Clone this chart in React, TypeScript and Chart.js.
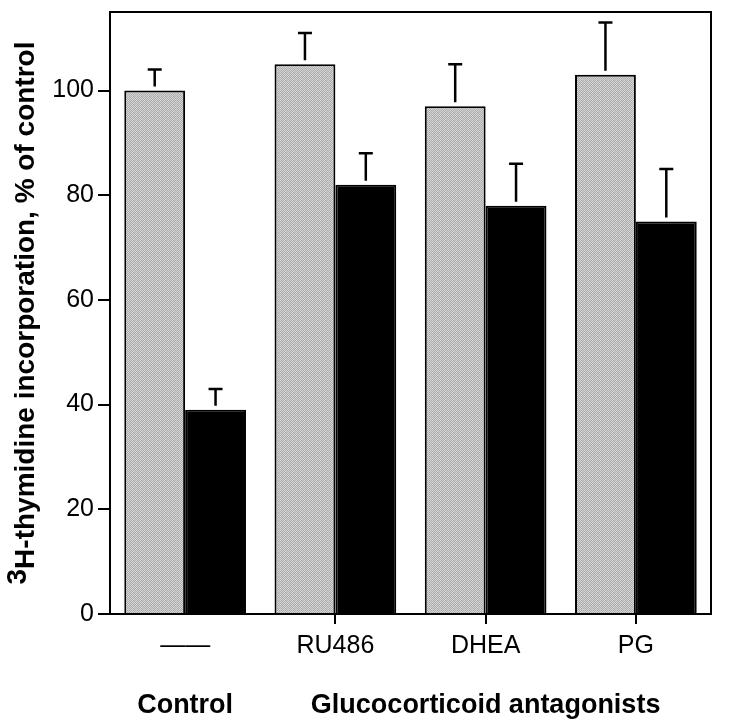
import React, { useEffect, useRef } from 'react';
import { Chart, registerables } from 'chart.js';

Chart.register(...registerables);

const categories = ['——', 'RU486', 'DHEA', 'PG'];
const greyValues = [100, 105, 97, 103];
const greyErrors = [4, 6, 8, 10];
const blackValues = [39, 82, 78, 75];
const blackErrors = [4, 6, 8, 10];
const yTickValues = [0, 20, 40, 60, 80, 100];
const groupLabels = ['Control', 'Glucocorticoid antagonists'];
const groupLabelIndex = [0, 2];
const yTitleSup = '3';
const yTitleRest = 'H-thymidine incorporation, % of control';

const FONT = '"Liberation Sans", Arial, Helvetica, sans-serif';

function makePattern(): CanvasPattern | string {
  const c = document.createElement('canvas');
  c.width = 4;
  c.height = 4;
  const g = c.getContext('2d');
  if (!g) return '#bcbcbc';
  const tile = [
    ['#d6d6d6', '#a6a6a6', '#cfcfcf', '#b0b0b0'],
    ['#b4b4b4', '#d2d2d2', '#a8a8a8', '#d8d8d8'],
    ['#d4d4d4', '#ababab', '#d6d6d6', '#a9a9a9'],
    ['#aeaeae', '#d8d8d8', '#b2b2b2', '#d0d0d0'],
  ];
  for (let y = 0; y < 4; y++) {
    for (let x = 0; x < 4; x++) {
      g.fillStyle = tile[y][x];
      g.fillRect(x, y, 1, 1);
    }
  }
  const p = g.createPattern(c, 'repeat');
  return p || '#bcbcbc';
}

const errorBarPlugin = {
  id: 'errorBars',
  afterDatasetsDraw(chart: any) {
    const ctx = chart.ctx;
    const yScale = chart.scales.y;
    const errs = [greyErrors, blackErrors];
    ctx.save();
    ctx.strokeStyle = '#000';
    ctx.lineWidth = 2.5;
    chart.data.datasets.forEach((ds: any, i: number) => {
      const meta = chart.getDatasetMeta(i);
      meta.data.forEach((el: any, j: number) => {
        const v = ds.data[j];
        const yCap = yScale.getPixelForValue(v + errs[i][j]);
        const x = el.x;
        ctx.beginPath();
        ctx.moveTo(x, el.y - 4);
        ctx.lineTo(x, yCap);
        ctx.moveTo(x - 7, yCap);
        ctx.lineTo(x + 7, yCap);
        ctx.stroke();
      });
    });
    const a = chart.chartArea;
    ctx.lineWidth = 2;
    ctx.strokeRect(a.left, a.top, a.right - a.left, a.bottom - a.top);
    ctx.restore();
  },
  afterDraw(chart: any) {
    const ctx = chart.ctx;
    const xScale = chart.scales.x;
    const a = chart.chartArea;
    ctx.save();
    ctx.fillStyle = '#000';
    ctx.font = `bold 27px ${FONT}`;
    ctx.textAlign = 'center';
    ctx.textBaseline = 'middle';
    groupLabels.forEach((t, k) => {
      ctx.fillText(t, xScale.getPixelForValue(groupLabelIndex[k]), 706);
    });
    const yc = (a.top + a.bottom) / 2;
    ctx.translate(0, yc);
    ctx.rotate(-Math.PI / 2);
    ctx.textAlign = 'left';
    ctx.textBaseline = 'alphabetic';
    ctx.font = `bold 28px ${FONT}`;
    const w1 = ctx.measureText(yTitleSup).width;
    const w2 = ctx.measureText(yTitleRest).width;
    const start = -(w1 + w2) / 2;
    const base = 34;
    ctx.fillText(yTitleSup, start, base - 8);
    ctx.fillText(yTitleRest, start + w1, base);
    ctx.restore();
  },
};

export default function App() {
  const ref = useRef<HTMLCanvasElement | null>(null);
  useEffect(() => {
    if (!ref.current) return;
    const pattern = makePattern();
    const chart = new Chart(ref.current, {
      type: 'bar',
      data: {
        labels: categories,
        datasets: [
          {
            label: 'grey',
            data: greyValues,
            backgroundColor: pattern as any,
            borderColor: '#000',
            borderWidth: 2,
            categoryPercentage: 0.81,
            barPercentage: 1,
          },
          {
            label: 'black',
            data: blackValues,
            backgroundColor: '#000',
            borderColor: '#000',
            borderWidth: 2,
            categoryPercentage: 0.81,
            barPercentage: 1,
          },
        ],
      },
      options: {
        animation: false,
        responsive: false,
        devicePixelRatio: 1,
        layout: { padding: { top: 12, right: 19, left: 0, bottom: 0 } },
        plugins: { legend: { display: false }, tooltip: { enabled: false } },
        scales: {
          x: {
            type: 'category',
            grid: {
              display: true,
              drawOnChartArea: false,
              drawTicks: true,
              tickLength: 10,
              offset: false,
              lineWidth: 2,
              color: (c: any) => (c.index === 0 ? 'rgba(0,0,0,0)' : '#000'),
            },
            border: { display: false },
            ticks: {
              color: '#000',
              font: { family: FONT, size: 25, lineHeight: 1 },
              padding: 10,
              maxRotation: 0,
              autoSkip: false,
            },
            afterFit: (s: any) => {
              s.height = 106;
              s.paddingLeft = 0;
              s.paddingRight = 0;
            },
          },
          y: {
            type: 'linear',
            min: 0,
            max: 115,
            grid: {
              display: true,
              drawOnChartArea: false,
              drawTicks: true,
              tickLength: 12,
              lineWidth: 2,
              color: '#000',
            },
            border: { display: false },
            ticks: {
              color: '#000',
              stepSize: 20,
              font: { family: FONT, size: 25, lineHeight: 1 },
              padding: 4,
            },
            afterBuildTicks: (s: any) => {
              s.ticks = yTickValues.map((v) => ({ value: v }));
            },
            afterFit: (s: any) => {
              s.width = 110;
              s.paddingTop = 0;
              s.paddingBottom = 0;
            },
          },
        },
      },
      plugins: [errorBarPlugin],
    });
    return () => chart.destroy();
  }, []);
  return (
    <div style={{ position: 'absolute', left: 0, top: 0, width: 730, height: 720, background: '#fff' }}>
      <canvas ref={ref} width={730} height={720} style={{ width: 730, height: 720, display: 'block' }} />
    </div>
  );
}
